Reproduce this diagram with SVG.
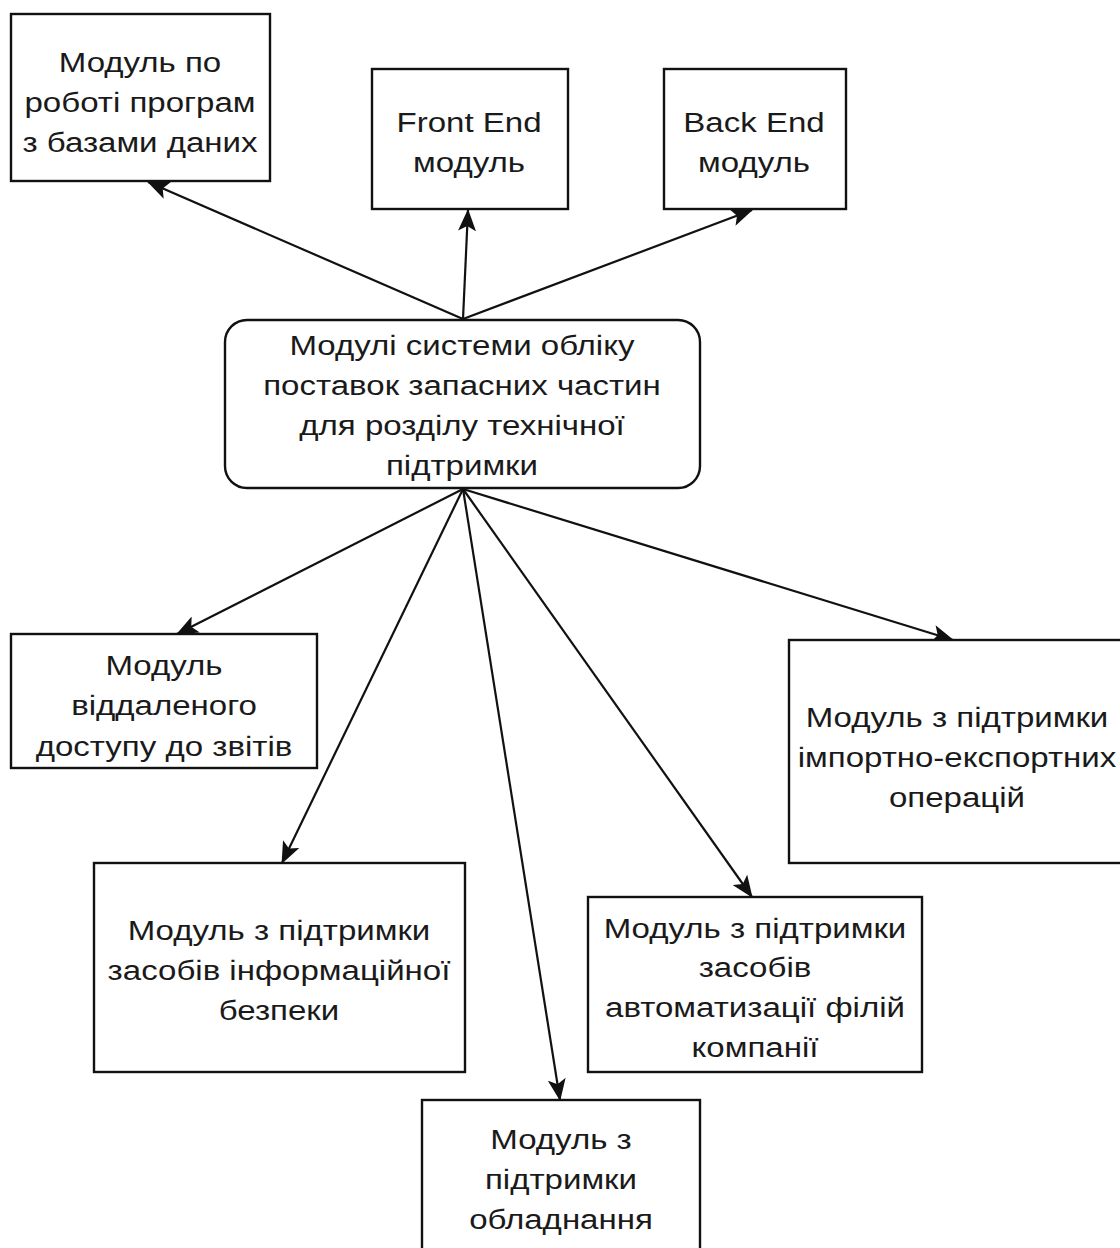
<svg xmlns="http://www.w3.org/2000/svg" width="1120" height="1248" viewBox="0 0 1120 1248">
  <style>
    .box { fill: #ffffff; stroke: #111111; stroke-width: 2.4; }
    .edge { fill: none; stroke: #111111; stroke-width: 2.2; }
    text { font-family: "Liberation Sans", Arial, sans-serif; font-size: 28px; fill: #1a1a1a; text-anchor: middle; }
  </style>
  <defs>
    <marker id="arrow" viewBox="0 0 22 18" refX="21" refY="9" markerWidth="22" markerHeight="18" markerUnits="userSpaceOnUse" orient="auto">
      <path d="M0,0 L22,9 L0,18 L5,9 Z" fill="#111111"/>
    </marker>
  </defs>
  <rect width="1120" height="1248" fill="#ffffff"/>

  <!-- connectors: hub to each module -->
  <g id="connectors">
    <line class="edge" x1="463" y1="319" x2="148" y2="182" marker-end="url(#arrow)"/>
    <line class="edge" x1="463" y1="319" x2="468" y2="210" marker-end="url(#arrow)"/>
    <line class="edge" x1="463" y1="319" x2="752" y2="210" marker-end="url(#arrow)"/>
    <line class="edge" x1="463" y1="489" x2="177" y2="634" marker-end="url(#arrow)"/>
    <line class="edge" x1="463" y1="489" x2="282" y2="863" marker-end="url(#arrow)"/>
    <line class="edge" x1="463" y1="489" x2="560" y2="1100" marker-end="url(#arrow)"/>
    <line class="edge" x1="463" y1="489" x2="752" y2="897" marker-end="url(#arrow)"/>
    <line class="edge" x1="463" y1="489" x2="953" y2="640" marker-end="url(#arrow)"/>
  </g>

  <!-- labels are set in a horizontally widened face: scale(1.18 1) around each centre -->
  <g id="node-db">
    <rect class="box" x="11" y="14" width="259" height="167"/>
    <g transform="translate(140 0) scale(1.18 1)">
      <text x="0" y="72">Модуль по</text>
      <text x="0" y="112">роботі програм</text>
      <text x="0" y="152">з базами даних</text>
    </g>
  </g>

  <g id="node-frontend">
    <rect class="box" x="372" y="69" width="196" height="140"/>
    <g transform="translate(469 0) scale(1.18 1)">
      <text x="0" y="132">Front End</text>
      <text x="0" y="172">модуль</text>
    </g>
  </g>

  <g id="node-backend">
    <rect class="box" x="664" y="69" width="182" height="140"/>
    <g transform="translate(754 0) scale(1.18 1)">
      <text x="0" y="132">Back End</text>
      <text x="0" y="172">модуль</text>
    </g>
  </g>

  <g id="node-hub">
    <rect class="box" x="225" y="320" width="475" height="168" rx="22" ry="22"/>
    <g transform="translate(462 0) scale(1.18 1)">
      <text x="0" y="355">Модулі системи обліку</text>
      <text x="0" y="395">поставок запасних частин</text>
      <text x="0" y="435">для розділу технічної</text>
      <text x="0" y="475">підтримки</text>
    </g>
  </g>

  <g id="node-remote">
    <rect class="box" x="11" y="634" width="306" height="134"/>
    <g transform="translate(164 0) scale(1.18 1)">
      <text x="0" y="675">Модуль</text>
      <text x="0" y="715">віддаленого</text>
      <text x="0" y="756">доступу до звітів</text>
    </g>
  </g>

  <g id="node-import">
    <rect class="box" x="789" y="640" width="340" height="223"/>
    <g transform="translate(957 0) scale(1.18 1)">
      <text x="0" y="727">Модуль з підтримки</text>
      <text x="0" y="767">імпортно-експортних</text>
      <text x="0" y="807">операцій</text>
    </g>
  </g>

  <g id="node-security">
    <rect class="box" x="94" y="863" width="371" height="209"/>
    <g transform="translate(279 0) scale(1.18 1)">
      <text x="0" y="940">Модуль з підтримки</text>
      <text x="0" y="980">засобів інформаційної</text>
      <text x="0" y="1020">безпеки</text>
    </g>
  </g>

  <g id="node-branches">
    <rect class="box" x="588" y="897" width="334" height="175"/>
    <g transform="translate(755 0) scale(1.18 1)">
      <text x="0" y="938">Модуль з підтримки</text>
      <text x="0" y="977">засобів</text>
      <text x="0" y="1017">автоматизації філій</text>
      <text x="0" y="1057">компанії</text>
    </g>
  </g>

  <g id="node-equipment">
    <rect class="box" x="422" y="1100" width="278" height="170"/>
    <g transform="translate(561 0) scale(1.18 1)">
      <text x="0" y="1149">Модуль з</text>
      <text x="0" y="1189">підтримки</text>
      <text x="0" y="1229">обладнання</text>
    </g>
  </g>
</svg>
